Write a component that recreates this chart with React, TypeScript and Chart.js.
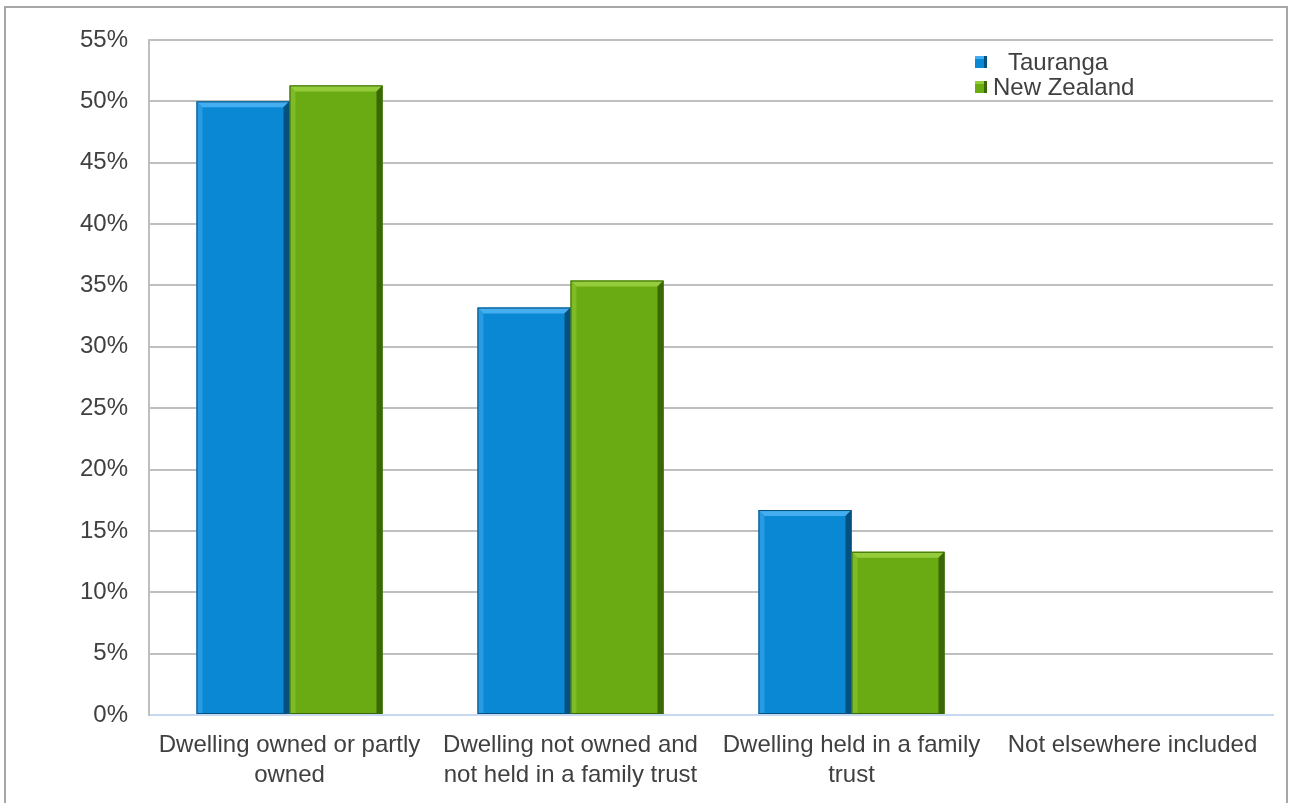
import React, { useEffect, useRef } from "react";
import { Chart, registerables } from "chart.js";

Chart.register(...registerables);

const categories: string[][] = [
  ["Dwelling owned or partly", "owned"],
  ["Dwelling not owned and", "not held in a family trust"],
  ["Dwelling held in a family", "trust"],
  ["Not elsewhere included"],
];
const seriesNames = ["Tauranga", "New Zealand"];
const tauranga = [50.0, 33.2, 16.7, 0];
const newZealand = [51.3, 35.4, 13.3, 0];
const yTicks = [0, 5, 10, 15, 20, 25, 30, 35, 40, 45, 50, 55];

const FONT = "'Liberation Sans', Arial, sans-serif";

const palette = [
  { main: "#0a88d4", light: "#45aef0", dark: "#04507f" },
  { main: "#6aaa12", light: "#94cc3c", dark: "#3a6806" },
];

const bevelPlugin = {
  id: "bevel",
  afterDatasetsDraw(chart: any) {
    const ctx = chart.ctx;
    chart.data.datasets.forEach((ds: any, di: number) => {
      const meta = chart.getDatasetMeta(di);
      const c = palette[di];
      meta.data.forEach((bar: any) => {
        const { x, y, base, width } = bar.getProps(["x", "y", "base", "width"], true);
        const h = base - y;
        if (h < 2) return;
        const l = x - width / 2;
        const r = x + width / 2;
        const b = Math.min(6, h / 2);
        ctx.save();
        ctx.fillStyle = c.light;
        ctx.beginPath();
        ctx.moveTo(l, y);
        ctx.lineTo(r, y);
        ctx.lineTo(r - b, y + b);
        ctx.lineTo(l + b, y + b);
        ctx.closePath();
        ctx.fill();
        ctx.globalAlpha = 0.5;
        ctx.beginPath();
        ctx.moveTo(l, y);
        ctx.lineTo(l + b, y + b);
        ctx.lineTo(l + b, base);
        ctx.lineTo(l, base);
        ctx.closePath();
        ctx.fill();
        ctx.globalAlpha = 1;
        ctx.fillStyle = c.dark;
        ctx.beginPath();
        ctx.moveTo(r, y);
        ctx.lineTo(r - b, y + b);
        ctx.lineTo(r - b, base);
        ctx.lineTo(r, base);
        ctx.closePath();
        ctx.fill();
        ctx.strokeStyle = c.dark;
        ctx.lineWidth = 1;
        ctx.strokeRect(l + 0.5, y + 0.5, width - 1, h - 1);
        ctx.restore();
      });
    });
  },
};

const framePlugin = {
  id: "frame",
  beforeDraw(chart: any) {
    const ctx = chart.ctx;
    ctx.save();
    ctx.fillStyle = "#ffffff";
    ctx.fillRect(0, 0, chart.width, chart.height);
    ctx.strokeStyle = "#a6a6a6";
    ctx.lineWidth = 2;
    ctx.strokeRect(5, 7, 1282, 820);
    ctx.restore();
  },
  afterDraw(chart: any) {
    const ctx = chart.ctx;
    ctx.save();
    ctx.font = "24px " + FONT;
    ctx.textBaseline = "middle";
    const items = [
      { sx: 975, sy: 62, tx: 1008 },
      { sx: 975, sy: 87, tx: 993 },
    ];
    chart.data.datasets.forEach((ds: any, i: number) => {
      const it = items[i];
      const c = palette[i];
      ctx.fillStyle = c.main;
      ctx.fillRect(it.sx, it.sy - 6, 12, 12);
      ctx.fillStyle = c.light;
      ctx.fillRect(it.sx, it.sy - 6, 12, 3);
      ctx.fillStyle = c.dark;
      ctx.fillRect(it.sx + 9, it.sy - 6, 3, 12);
      ctx.fillStyle = "#404040";
      ctx.textAlign = "left";
      ctx.fillText(ds.label, it.tx, it.sy + 1);
    });
    ctx.restore();
  },
};

export default function App() {
  const ref = useRef<HTMLCanvasElement>(null);
  useEffect(() => {
    if (!ref.current) return;
    const chart = new Chart(ref.current, {
      type: "bar",
      data: {
        labels: categories,
        datasets: [
          { label: seriesNames[0], data: tauranga, backgroundColor: palette[0].main },
          { label: seriesNames[1], data: newZealand, backgroundColor: palette[1].main },
        ],
      },
      options: {
        animation: false,
        responsive: false,
        maintainAspectRatio: false,
        layout: { padding: { left: 0, top: 40, right: 17, bottom: 0 } },
        datasets: { bar: { barPercentage: 1, categoryPercentage: 0.662 } },
        plugins: { legend: { display: false }, tooltip: { enabled: false } },
        scales: {
          x: {
            grid: { display: false, drawTicks: false },
            border: { display: true, color: "#c6d9f1", width: 2 },
            ticks: {
              color: "#404040",
              font: { family: FONT, size: 24, lineHeight: 1.25 },
              padding: 15,
              maxRotation: 0,
              autoSkip: false,
            },
            afterFit: (s: any) => { s.height = 88; },
          },
          y: {
            min: 0,
            max: 55,
            afterBuildTicks: (s: any) => { s.ticks = yTicks.map((v) => ({ value: v })); },
            grid: { color: "#bfbfbf", lineWidth: 2, drawTicks: false },
            border: { display: true, color: "#bfbfbf", width: 2 },
            ticks: {
              color: "#404040",
              font: { family: FONT, size: 24 },
              padding: 21,
              callback: (v: any) => v + "%",
            },
            afterFit: (s: any) => { s.width = 149; },
          },
        },
      },
      plugins: [framePlugin, bevelPlugin],
    });
    return () => chart.destroy();
  }, []);
  return (
    <div style={{ position: "fixed", left: 0, top: 0, width: 1290, height: 803, background: "#fff" }}>
      <canvas ref={ref} width={1290} height={803} style={{ display: "block" }} />
    </div>
  );
}
